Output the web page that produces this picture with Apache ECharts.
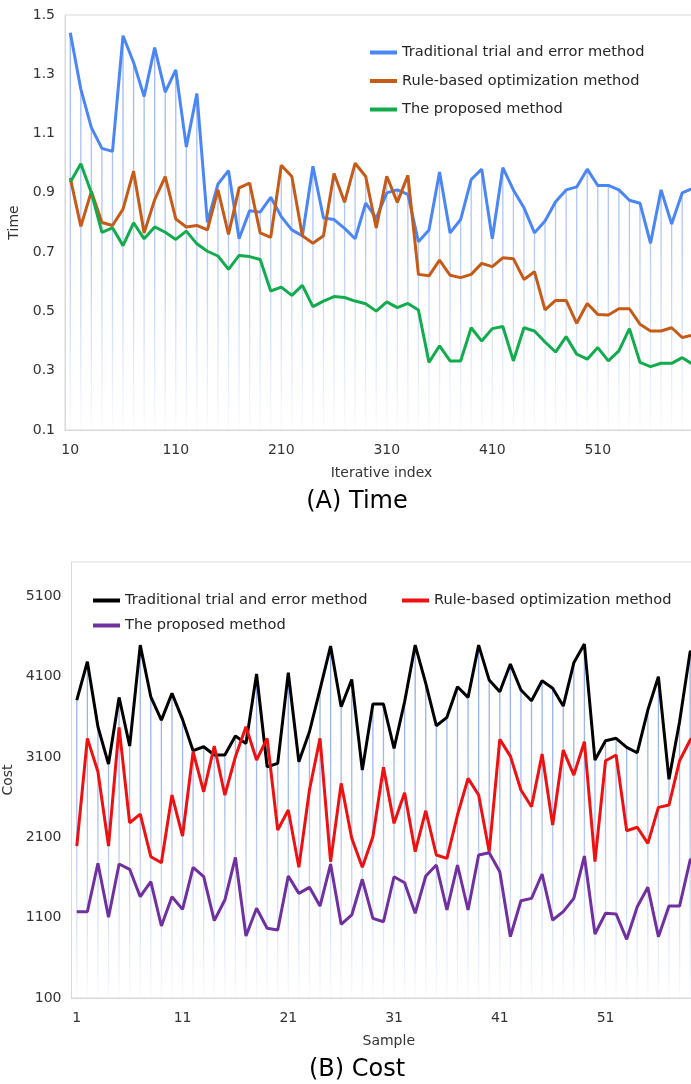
<!DOCTYPE html>
<html>
<head>
<meta charset="utf-8">
<script src="https://cdn.jsdelivr.net/npm/echarts@6/dist/echarts.min.js"></script>
<style>
html,body{margin:0;padding:0;background:#fff;}
#chartA{position:absolute;left:0;top:0;width:691px;height:540px;}
#chartB{position:absolute;left:0;top:540px;width:691px;height:544px;}
</style>
</head>
<body>
<div id="chartA"></div>
<div id="chartB"></div>
<script>
// ---------- Panel A: Time ----------
const timeCategories = [
  '10','20','30','40','50','60','70','80','90','100',
  '110','120','130','140','150','160','170','180','190','200',
  '210','220','230','240','250','260','270','280','290','300',
  '310','320','330','340','350','360','370','380','390','400',
  '410','420','430','440','450','460','470','480','490','500',
  '510','520','530','540','550','560','570','580','590','600'
];
const timeTraditional = [
  1.44, 1.25, 1.12, 1.05, 1.04, 1.43, 1.34, 1.225, 1.39, 1.24,
  1.315, 1.055, 1.235, 0.80, 0.93, 0.975, 0.745, 0.84, 0.835, 0.885,
  0.82, 0.775, 0.755, 0.99, 0.815, 0.81, 0.78, 0.745, 0.865, 0.815,
  0.90, 0.91, 0.895, 0.735, 0.775, 0.97, 0.765, 0.81, 0.945, 0.98,
  0.745, 0.985, 0.91, 0.85, 0.765, 0.805, 0.87, 0.91, 0.92, 0.98,
  0.925, 0.925, 0.91, 0.875, 0.865, 0.73, 0.91, 0.795, 0.90, 0.915
];
const timeRule = [
  0.95, 0.787, 0.905, 0.80, 0.79, 0.845, 0.973, 0.765, 0.877, 0.955,
  0.812, 0.785, 0.79, 0.775, 0.91, 0.76, 0.917, 0.933, 0.765, 0.75,
  0.993, 0.955, 0.755, 0.73, 0.755, 0.965, 0.868, 1.0, 0.955, 0.782,
  0.956, 0.868, 0.959, 0.625, 0.62, 0.673, 0.622, 0.614, 0.625, 0.662,
  0.651, 0.681, 0.678, 0.608, 0.634, 0.505, 0.537, 0.537, 0.46, 0.527,
  0.49, 0.488, 0.509, 0.509, 0.457, 0.434, 0.434, 0.445, 0.412, 0.42
];
const timeProposed = [
  0.936, 0.998, 0.90, 0.767, 0.782, 0.722, 0.799, 0.745, 0.785, 0.767,
  0.743, 0.771, 0.728, 0.703, 0.687, 0.642, 0.689, 0.685, 0.675, 0.569,
  0.582, 0.554, 0.588, 0.516, 0.535, 0.55, 0.547, 0.535, 0.526, 0.501,
  0.532, 0.513, 0.527, 0.505, 0.328, 0.384, 0.333, 0.333, 0.445, 0.40,
  0.442, 0.449, 0.333, 0.445, 0.434, 0.397, 0.363, 0.415, 0.356, 0.339,
  0.378, 0.333, 0.367, 0.442, 0.328, 0.314, 0.325, 0.325, 0.344, 0.322
];
const timeTicks = [0.1, 0.3, 0.5, 0.7, 0.9, 1.1, 1.3, 1.5];

// ---------- Panel B: Cost ----------
const costCategories = [
  '1','2','3','4','5','6','7','8','9','10',
  '11','12','13','14','15','16','17','18','19','20',
  '21','22','23','24','25','26','27','28','29','30',
  '31','32','33','34','35','36','37','38','39','40',
  '41','42','43','44','45','46','47','48','49','50',
  '51','52','53','54','55','56','57','58','59','60'
];
const costTraditional = [
  3807, 4284, 3475, 3011, 3840, 3235, 4491, 3848, 3558, 3890,
  3567, 3177, 3226, 3123, 3123, 3359, 3268, 4131, 2977, 3020,
  4147, 3040, 3413, 3940, 4479, 3724, 4064, 2936, 3757, 3757,
  3206, 3786, 4491, 4015, 3488, 3592, 3973, 3840, 4491, 4056,
  3910, 4255, 3932, 3799, 4047, 3953, 3732, 4271, 4504, 3061,
  3301, 3331, 3219, 3152, 3683, 4097, 2821, 3537, 4408, 4450
];
const costRule = [
  1991, 3331, 2916, 1991, 3468, 2281, 2389, 1858, 1783, 2625,
  2115, 3164, 2666, 3235, 2625, 3102, 3475, 3061, 3331, 2190,
  2439, 1726, 2688, 3331, 1796, 2771, 2087, 1726, 2107, 2970,
  2273, 2654, 1920, 2430, 1879, 1838, 2377, 2833, 2625, 1920,
  3318, 3110, 2688, 2480, 3135, 2252, 3185, 2874, 3289, 1796,
  3052, 3123, 2181, 2224, 2024, 2472, 2501, 3052, 3310, 3400
];
const costProposed = [
  1174, 1174, 1776, 1104, 1767, 1701, 1360, 1547, 996, 1360,
  1203, 1726, 1609, 1062, 1319, 1850, 871, 1216, 967, 946,
  1618, 1402, 1477, 1244, 1767, 1017, 1133, 1577, 1091, 1049,
  1609, 1534, 1154, 1618, 1755, 1195, 1755, 1195, 1879, 1908,
  1671, 863, 1310, 1340, 1643, 1070, 1174, 1340, 1866, 896,
  1154, 1145, 830, 1236, 1477, 863, 1244, 1244, 1817, 1900
];
const costTicks = [100, 1100, 2100, 3100, 4100, 5100];

const seriesNames = [
  'Traditional trial and error method',
  'Rule-based optimization method',
  'The proposed method'
];

// ---------- helpers ----------
const FONT = 'DejaVu Sans';
function maxOf(arrs) {
  return arrs[0].map((_, i) => Math.max.apply(null, arrs.map(a => a[i])));
}
function dropGradient(y0, y1, rgb) {
  return new echarts.graphic.LinearGradient(0, y0, 0, y1, [
    { offset: 0, color: 'rgba(' + rgb + ',0.85)' },
    { offset: 0.55, color: 'rgba(' + rgb + ',0.6)' },
    { offset: 1, color: 'rgba(' + rgb + ',0.03)' }
  ], true);
}
function lineSeries(name, data, color) {
  return {
    type: 'line', name: name, data: data, symbol: 'none', z: 3,
    lineStyle: { color: color, width: 3 }, itemStyle: { color: color },
    animation: false
  };
}
function legendItem(name, left, top) {
  return {
    data: [name], left: left, top: top, icon: 'rect',
    itemWidth: 27, itemHeight: 4, itemGap: 0, padding: 0,
    selectedMode: false,
    textStyle: { fontFamily: FONT, fontSize: 14.6, color: '#262626' }
  };
}
const axisLabelStyle = { fontFamily: FONT, fontSize: 14, color: '#333' };
const axisNameStyle = { fontFamily: FONT, fontSize: 14, color: '#333' };

// ---------- Chart A ----------
const chartA = echarts.init(document.getElementById('chartA'), null, { renderer: 'canvas' });
chartA.setOption({
  animation: false,
  backgroundColor: '#fff',
  grid: {
    left: 65, right: -7, top: 15, bottom: 110,
    containLabel: false, outerBoundsMode: 'none',
    show: true, borderColor: '#d9d9d9', borderWidth: 1
  },
  legend: {
    data: seriesNames, orient: 'vertical', left: 370, top: 45,
    icon: 'rect', itemWidth: 27, itemHeight: 4, itemGap: 13.5, padding: 0,
    selectedMode: false,
    textStyle: { fontFamily: FONT, fontSize: 14.6, color: '#262626' }
  },
  xAxis: {
    type: 'category', data: timeCategories, boundaryGap: true,
    axisLine: { lineStyle: { color: '#d9d9d9', width: 1 } },
    axisTick: { show: false },
    axisLabel: Object.assign({ interval: 9, margin: 13 }, axisLabelStyle),
    name: 'Iterative index', nameLocation: 'middle', nameGap: 36,
    nameTextStyle: axisNameStyle
  },
  yAxis: {
    type: 'value', min: 0.1, max: 1.5,
    splitLine: { show: false },
    axisLine: { show: true, lineStyle: { color: '#d9d9d9', width: 1 } },
    axisTick: { show: false },
    axisLabel: Object.assign({
      customValues: timeTicks, margin: 10,
      formatter: v => Number(v).toFixed(1)
    }, axisLabelStyle),
    name: 'Time', nameLocation: 'middle', nameGap: 37,
    nameTextStyle: axisNameStyle
  },
  graphic: [{
    type: 'text', x: 357, y: 502,
    style: { text: '(A) Time', fontFamily: FONT, fontSize: 24, fill: '#000',
             textAlign: 'center', textVerticalAlign: 'middle' }
  }],
  series: [
    {
      type: 'bar', name: 'drop', data: maxOf([timeTraditional, timeRule, timeProposed]),
      barWidth: 1.3, silent: true, z: 1,
      itemStyle: { color: dropGradient(15, 430, '130,165,245') }
    },
    lineSeries(seriesNames[0], timeTraditional, '#4a86f5'),
    lineSeries(seriesNames[1], timeRule, '#c65a17'),
    lineSeries(seriesNames[2], timeProposed, '#12ac4c')
  ]
});

// ---------- Chart B ----------
const chartB = echarts.init(document.getElementById('chartB'), null, { renderer: 'canvas' });
chartB.setOption({
  animation: false,
  backgroundColor: '#fff',
  grid: {
    left: 71.5, right: -15, top: 22, bottom: 86,
    containLabel: false, outerBoundsMode: 'none',
    show: true, borderColor: '#d9d9d9', borderWidth: 1
  },
  legend: [
    legendItem(seriesNames[0], 93, 53),
    legendItem(seriesNames[1], 402, 53),
    legendItem(seriesNames[2], 93, 78)
  ],
  xAxis: {
    type: 'category', data: costCategories, boundaryGap: true,
    axisLine: { lineStyle: { color: '#d9d9d9', width: 1 } },
    axisTick: { show: false },
    axisLabel: Object.assign({ interval: 9, margin: 13 }, axisLabelStyle),
    name: 'Sample', nameLocation: 'middle', nameGap: 36,
    nameTextStyle: axisNameStyle
  },
  yAxis: {
    type: 'value', min: 100, max: 5525,
    splitLine: { show: false },
    axisLine: { show: true, lineStyle: { color: '#d9d9d9', width: 1 } },
    axisTick: { show: false },
    axisLabel: Object.assign({
      customValues: costTicks, margin: 10,
      formatter: v => String(Math.round(v))
    }, axisLabelStyle),
    name: 'Cost', nameLocation: 'middle', nameGap: 53,
    nameTextStyle: axisNameStyle
  },
  graphic: [{
    type: 'text', x: 357, y: 530,
    style: { text: '(B) Cost', fontFamily: FONT, fontSize: 24, fill: '#000',
             textAlign: 'center', textVerticalAlign: 'middle' }
  }],
  series: [
    {
      type: 'bar', name: 'drop', data: maxOf([costTraditional, costRule, costProposed]),
      barWidth: 1.3, silent: true, z: 1,
      itemStyle: { color: dropGradient(22, 458, '105,145,232') }
    },
    lineSeries(seriesNames[0], costTraditional, '#000000'),
    lineSeries(seriesNames[1], costRule, '#ee1111'),
    lineSeries(seriesNames[2], costProposed, '#7030a0')
  ]
});
</script>
</body>
</html>
